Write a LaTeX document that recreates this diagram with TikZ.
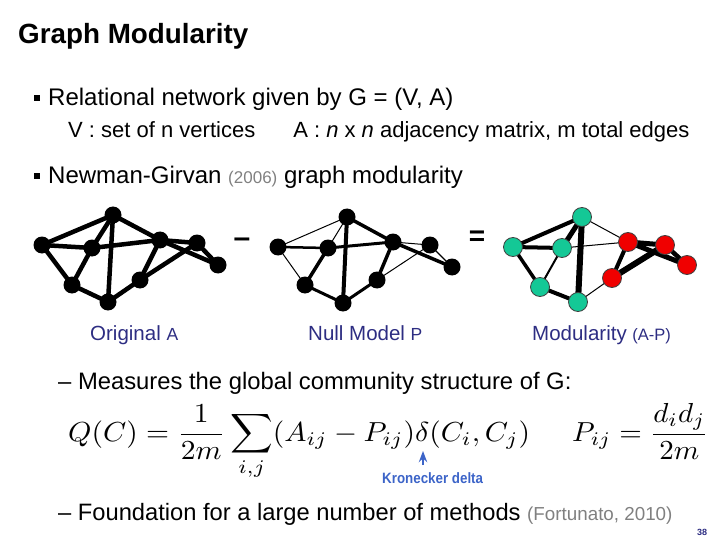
\documentclass[tikz,border=0pt]{standalone}
\usepackage{fontspec}
\setmainfont{Liberation Sans}
\usetikzlibrary{arrows.meta}
\definecolor{labelnavy}{RGB}{45,45,130}
\definecolor{kronblue}{RGB}{60,100,200}
\definecolor{commgreen}{RGB}{20,200,150}
\definecolor{commred}{RGB}{240,0,0}
\newcommand{\fsize}[1]{\fontsize{#1}{#1}\selectfont}
\newcommand{\sqbullet}{\rule[5pt]{6pt}{6pt}\hspace{8pt}}
\pgfdeclarelayer{background}
\pgfsetlayers{background,main}

\begin{document}
\begin{tikzpicture}[x=1pt, y=-1pt, >=Stealth,
  txt/.style={anchor=base west, inner sep=0pt},
  vtx/.style={circle, fill=black, minimum size=17pt, inner sep=0pt},
  cvtx/.style={circle, draw=black!75, line width=0.8pt, fill=#1, minimum size=19pt, inner sep=0pt},
  lbl/.style={anchor=base west, inner sep=0pt, text=labelnavy, font=\fsize{20.5}}]
\useasboundingbox (0,0) rectangle (720,540);
% text
\node[txt, font=\fsize{27.8}\bfseries] (title) at (18,44) {Graph Modularity};
\node[txt, font=\fsize{24}] (item1) at (34,106) {\sqbullet Relational network given by G = (V, A)};
\node[txt, font=\fsize{22}] (defs) at (68,138) {V : set of n vertices\hspace{38pt}A : \textit{n} x \textit{n} adjacency matrix, m total edges};
\node[txt, font=\fsize{24}] (item2) at (34,184) {\sqbullet Newman-Girvan {\fsize{17}\color{gray}(2006)} graph modularity};
% three graphs
\foreach \i/\xa/\ya/\xb/\yb/\xc/\yc/\col in {
  1/42/245/278/247/513/247/commgreen,
  2/113/215/347/217/582/217/commgreen,
  3/92/248/328/248/562/248/commgreen,
  4/72/285/305/285/540/287/commgreen,
  5/108/302/343/303/578/302/commgreen,
  6/160/240/393/242/628/242/commred,
  7/140/280/377/280/612/278/commred,
  8/197/243/430/245/665/245/commred,
  9/218/265/452/267/687/265/commred}
{
  \node[vtx] (a\i) at (\xa,\ya) {};
  \node[vtx] (b\i) at (\xb,\yb) {};
  \node[cvtx=\col] (c\i) at (\xc,\yc) {};
}
\begin{pgfonlayer}{background}
\foreach \u/\v/\wb/\wc in {1/2/1/4, 1/3/2.5/4, 1/4/1/3.5, 2/3/1/5, 2/5/4/6,
  2/6/3.5/1, 3/6/3/1, 3/4/3.5/2, 4/5/3/4, 5/7/3/1, 6/7/3.5/4, 6/8/1/5,
  6/9/3.5/5, 7/8/1/6, 8/9/1.2/4.5}
{
  \draw[line width=4.5pt] (a\u.center) -- (a\v.center);
  \draw[line width=\wb pt] (b\u.center) -- (b\v.center);
  \draw[line width=\wc pt] (c\u.center) -- (c\v.center);
}
\end{pgfonlayer}
\node[font=\fsize{30}\bfseries] (minus) at (242,243) {--};
\node[font=\fsize{28}\bfseries] (equals) at (477,238) {=};
\node[lbl] (lblorig) at (90,340) {Original {\fsize{17.5}A}};
\node[lbl] (lblnull) at (308,340) {Null Model {\fsize{17.5}P}};
\node[lbl] (lblmod) at (532,340) {Modularity {\fsize{16.5}(A-P)}};
% formula
\node[txt, font=\fsize{23.8}] (measures) at (58,389) {-- Measures the global community structure of G:};
\node[txt] (qform) at (68,441) {\scalebox{2.96}[2.75]{$\displaystyle Q(C) = \frac{1}{2m}\sum_{i,j}(A_{ij}-P_{ij})\delta(C_i,C_j)$}};
\node[txt] (pform) at (572,441) {\scalebox{2.9}[2.75]{$\displaystyle P_{ij} = \frac{d_i d_j}{2m}$}};
\node[txt, font=\fsize{15}\bfseries, text=kronblue] (kron) at (382,483) {\scalebox{0.89}[1]{Kronecker delta}};
\coordinate (arrowfoot) at (423,465);
\coordinate (arrowtip) at (423,451);
\draw[->, kronblue, line width=1.8pt] (arrowfoot) -- (arrowtip);
\node[txt, font=\fsize{23.7}] (found) at (58,520) {-- Foundation for a large number of methods {\fsize{18.8}\color{gray}(Fortunato, 2010)}};
\node[txt, font=\fsize{9}\bfseries, text=labelnavy] (pgno) at (697,535) {38};
\end{tikzpicture}
\end{document}
